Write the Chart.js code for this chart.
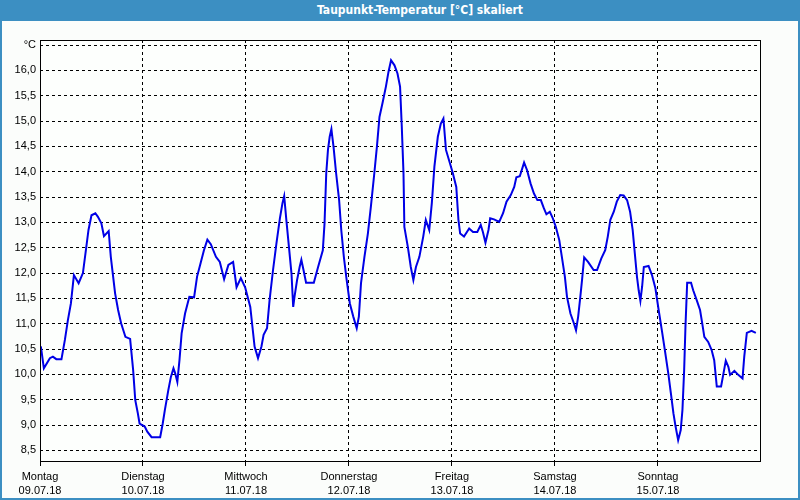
<!DOCTYPE html>
<html>
<head>
<meta charset="utf-8">
<script src="https://cdn.jsdelivr.net/npm/chart.js@4/dist/chart.umd.min.js"></script>
<style>
  html, body { margin: 0; padding: 0; }
  body { width: 800px; height: 500px; background: #fbfdfb; position: relative; overflow: hidden; }
  #frame { position: absolute; left: 0; top: 0; width: 796px; height: 498px; border: 2px solid #3c8fc2; border-top: none; }
  #titel {
    position: absolute; left: 0; top: 0; width: 760px; height: 21px; padding-left: 40px;
    background: #3c8fc2; color: #fff; text-align: center;
    font: bold 12px "DejaVu Sans Condensed", "Liberation Sans", sans-serif; line-height: 21px;
  }
  #wrap { position: absolute; left: 0; top: 0; width: 800px; height: 500px; }
</style>
</head>
<body>
<div id="frame"></div>
<div id="wrap"><canvas id="chart"></canvas></div>
<div id="titel">Taupunkt-Temperatur [°C] skaliert</div>
<script>
/* ── Daten ─────────────────────────────── */
// Stunden seit Montag 00:00
const stunden = [
  0.2, 0.9, 2.3, 3.0, 3.8, 5.0, 5.8, 6.5, 7.2, 7.9, 9.0, 10.0, 10.8, 11.3, 12.0, 12.9, 13.5, 14.3, 14.9, 16.0,
  16.5, 17.0, 17.5, 18.2, 18.9, 19.9, 21.0, 21.7, 22.2, 22.8, 23.2, 24.4, 25.0, 26.0, 28.0, 28.6, 29.1, 29.9, 30.5, 31.1,
  31.5, 32.0, 32.5, 33.0, 33.8, 34.8, 35.9, 36.6, 37.4, 38.2, 39.0, 39.8, 41.0, 41.9, 42.9, 43.9, 45.0, 45.8, 46.8, 47.8,
  49.0, 49.5, 50.0, 50.8, 51.6, 52.1, 52.9, 53.5, 54.3, 55.1, 55.9, 56.5, 56.9, 57.4, 58.0, 58.6, 59.0, 59.3, 59.9, 60.5,
  60.9, 61.4, 62.0, 63.8, 64.8, 65.9, 66.3, 66.7, 67.1, 67.5, 67.9, 68.4, 69.0, 69.7, 70.2, 70.8, 71.4, 72.2, 73.0, 73.8,
  74.3, 74.8, 75.6, 76.4, 77.1, 77.9, 78.5, 79.1, 79.8, 80.6, 81.2, 81.8, 82.6, 83.3, 83.9, 84.3, 84.7, 84.9, 85.7, 86.4,
  87.0, 87.6, 88.4, 89.3, 89.9, 90.7, 91.3, 91.9, 92.7, 93.4, 94.0, 94.6, 95.4, 96.2, 97.0, 97.5, 97.9, 98.8, 100.0, 100.9,
  101.9, 102.7, 103.2, 103.8, 104.5, 104.9, 105.8, 107.0, 107.9, 108.7, 109.7, 110.5, 111.0, 111.8, 112.8, 113.5, 114.3, 115.1, 115.9, 116.7,
  117.4, 118.0, 118.8, 119.5, 120.2, 121.0, 121.6, 122.3, 122.8, 123.6, 124.4, 124.9, 125.4, 125.9, 126.3, 126.8, 127.7, 129.0, 129.8, 130.8,
  131.7, 132.3, 132.9, 133.7, 134.4, 135.2, 136.0, 136.8, 137.5, 138.1, 138.6, 139.1, 139.5, 139.9, 140.3, 140.7, 141.8, 142.6, 143.4, 144.1,
  144.9, 145.6, 146.4, 147.0, 147.6, 148.1, 148.7, 149.3, 149.7, 150.1, 150.4, 150.8, 151.7, 152.2, 153.0, 153.8, 154.3, 154.8, 155.7, 156.5,
  157.1, 157.7, 158.7, 159.2, 159.8, 160.4, 160.8, 161.8, 162.7, 163.7, 164.1, 164.7, 165.8, 166.8
];
const taupunkt = [
  10.55, 10.12, 10.32, 10.35, 10.30, 10.30, 10.68, 11.07, 11.40, 11.96, 11.80, 12.00, 12.52, 12.85, 13.14, 13.18, 13.11, 12.98, 12.73, 12.83,
  12.32, 11.96, 11.60, 11.27, 11.01, 10.74, 10.70, 10.09, 9.49, 9.23, 9.03, 8.97, 8.87, 8.76, 8.76, 9.03, 9.30, 9.69, 9.95, 10.12,
  10.02, 9.85, 10.28, 10.81, 11.20, 11.53, 11.52, 11.93, 12.19, 12.45, 12.66, 12.57, 12.32, 12.22, 11.88, 12.16, 12.22, 11.72, 11.90, 11.72,
  11.33, 10.94, 10.55, 10.32, 10.55, 10.78, 10.91, 11.47, 12.06, 12.59, 13.08, 13.38, 13.52, 13.05, 12.52, 11.99, 11.33, 11.53, 11.86, 12.12,
  12.26, 12.06, 11.81, 11.81, 12.12, 12.45, 12.98, 13.97, 14.43, 14.69, 14.84, 14.49, 13.97, 13.44, 12.85, 12.32, 11.90, 11.40, 11.14, 10.91,
  11.14, 11.80, 12.32, 12.78, 13.31, 13.97, 14.49, 15.08, 15.35, 15.68, 15.97, 16.20, 16.10, 15.94, 15.68, 14.89, 13.97, 12.91, 12.52, 12.12,
  11.86, 12.12, 12.32, 12.72, 13.05, 12.85, 13.38, 14.10, 14.69, 14.95, 15.05, 14.43, 14.20, 13.97, 13.70, 13.05, 12.78, 12.72, 12.88, 12.81,
  12.81, 12.95, 12.81, 12.60, 12.85, 13.08, 13.06, 13.01, 13.18, 13.41, 13.54, 13.70, 13.89, 13.91, 14.18, 14.03, 13.77, 13.57, 13.44, 13.44,
  13.28, 13.16, 13.21, 13.08, 12.91, 12.65, 12.32, 11.93, 11.53, 11.20, 11.01, 10.87, 11.14, 11.53, 11.86, 12.31, 12.22, 12.06, 12.06, 12.29,
  12.45, 12.72, 13.05, 13.21, 13.41, 13.54, 13.53, 13.44, 13.21, 12.85, 12.39, 11.93, 11.66, 11.45, 11.73, 12.12, 12.14, 11.96, 11.70, 11.30,
  10.87, 10.48, 10.02, 9.63, 9.23, 8.97, 8.70, 8.90, 9.30, 10.09, 10.94, 11.81, 11.81, 11.66, 11.47, 11.27, 11.01, 10.74, 10.64, 10.48,
  10.28, 9.76, 9.76, 9.99, 10.27, 10.15, 9.99, 10.07, 9.99, 9.92, 10.35, 10.82, 10.86, 10.82
];

// Achsen
const tage = ["Montag", "Dienstag", "Mittwoch", "Donnerstag", "Freitag", "Samstag", "Sonntag"];
const daten = ["09.07.18", "10.07.18", "11.07.18", "12.07.18", "13.07.18", "14.07.18", "15.07.18"];
const tageTicks = [0, 24, 48, 72, 96, 120, 144];
const yTicks = [8.5, 9.0, 9.5, 10.0, 10.5, 11.0, 11.5, 12.0, 12.5, 13.0, 13.5, 14.0, 14.5, 15.0, 15.5, 16.0, 16.5];

/* ── Rahmen + Hintergrund ──────────────── */
const rahmen = {
  id: "rahmen",
  beforeDraw(chart) {
    const { ctx, chartArea: a } = chart;
    ctx.save();
    ctx.fillStyle = "#fdfffd";
    ctx.fillRect(a.left, a.top, a.right - a.left, a.bottom - a.top);
    ctx.restore();
  },
  afterDraw(chart) {
    const { ctx, chartArea: a } = chart;
    ctx.save();
    ctx.strokeStyle = "#000";
    ctx.lineWidth = 1;
    ctx.setLineDash([]);
    ctx.strokeRect(Math.round(a.left) + 0.5, Math.round(a.top) + 0.5,
      Math.round(a.right - a.left), Math.round(a.bottom - a.top));
    ctx.restore();
  }
};

const schrift = { family: "'Liberation Sans', sans-serif", size: 11 };

new Chart(document.getElementById("chart"), {
  type: "line",
  data: {
    datasets: [{
      data: stunden.map((h, i) => ({ x: h, y: taupunkt[i] })),
      borderColor: "#0000e6",
      borderWidth: 2,
      pointRadius: 0,
      tension: 0,
      fill: false
    }]
  },
  options: {
    responsive: true,
    maintainAspectRatio: false,
    animation: false,
    layout: { padding: { left: 0, top: 40, right: 40, bottom: 0 } },
    plugins: { legend: { display: false }, tooltip: { enabled: false } },
    scales: {
      x: {
        type: "linear",
        min: 0,
        max: 167.77,
        afterBuildTicks: s => { s.ticks = tageTicks.map(v => ({ value: v })); },
        afterFit: s => { s.height = 39; },
        border: { display: false, dash: [3, 3] },
        grid: {
          color: "#000",
          lineWidth: 1,
          drawTicks: true,
          tickLength: 5,
          tickColor: "#000",
          tickBorderDash: []
        },
        ticks: {
          color: "#000",
          font: { ...schrift, lineHeight: 1.36 },
          padding: 3,
          maxRotation: 0,
          autoSkip: false,
          callback: v => {
            const i = tageTicks.indexOf(v);
            return i < 0 ? "" : [tage[i], daten[i]];
          }
        }
      },
      y: {
        min: 8.29,
        max: 16.6,
        afterBuildTicks: s => { s.ticks = yTicks.map(v => ({ value: v })); },
        afterFit: s => { s.width = 40; },
        border: { display: false, dash: [3, 3] },
        grid: { color: "#000", lineWidth: 1, drawTicks: false },
        ticks: {
          color: "#000",
          font: schrift,
          padding: 4,
          autoSkip: false,
          callback: v => v === 16.5 ? "°C" : v.toFixed(1).replace(".", ",")
        }
      }
    }
  },
  plugins: [rahmen]
});
</script>
</body>
</html>
